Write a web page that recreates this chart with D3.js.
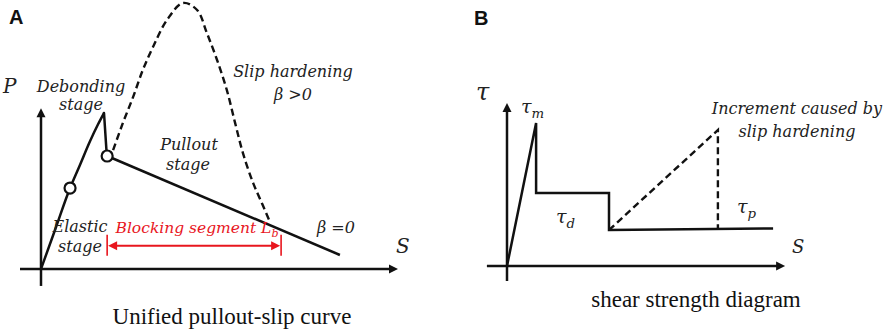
<!DOCTYPE html>
<html>
<head>
<meta charset="utf-8">
<script src="https://cdn.jsdelivr.net/npm/d3@7"></script>
<style>
  body { margin: 0; background: #fff; }
  svg { display: block; }
  .lbl { font-family: "DejaVu Serif", serif; font-style: italic; fill: #222; }
  .cap { font-family: "Liberation Serif", "Times New Roman", serif; fill: #111; }
  .panel { font-family: "Liberation Sans", Arial, sans-serif; font-weight: bold; fill: #111; }
</style>
</head>
<body>
<div id="chart"></div>
<script>
// ---- panel A data (S, P in arbitrary units) ----
const elasticCurve = [[0, 0], [0.40, 1.45], [0.83, 3.01], [1.11, 3.86], [1.40, 4.75], [1.63, 5.38], [1.80, 5.80]];
const debondDrop = [[1.80, 5.80], [1.87, 4.42]];
const stagePoints = [[0.83, 3.01], [1.89, 4.20]];
const pulloutLine = [[1.89, 4.20], [8.54, 0.52]];
const hardeningCurve = [[2.06, 4.42], [2.34, 5.43], [2.63, 6.39], [2.91, 7.40], [3.20, 8.25], [3.60, 9.26], [4.06, 9.89],
  [4.46, 9.63], [4.74, 8.77], [5.03, 7.77], [5.31, 6.65], [5.54, 5.46], [5.77, 4.31], [6.06, 3.20], [6.31, 2.45], [6.54, 1.75]];
const blockingSegment = [1.89, 6.86];   // S range of L_b
const blockingLevel = 0.86;
const axisA = { x: [-0.6, 10.2], y: [-0.63, 5.98] };

// ---- panel B data (S, tau) ----
const shearLine = [[0, 0], [0.97, 7.15], [0.97, 3.65], [3.4, 3.65], [3.4, 1.8], [8.87, 1.88]];
const hardeningRise = [[3.4, 1.8], [7.03, 6.8], [7.03, 1.87]];
const axisB = { x: [-0.67, 9.27], y: [-0.75, 8.15] };

const width = 886, height = 334;

const svg = d3.select('#chart').append('svg')
  .attr('width', width)
  .attr('height', height);

const xA = d3.scaleLinear().domain([0, 10]).range([41, 391]);
const yA = d3.scaleLinear().domain([0, 10]).range([269, 0]);
const xB = d3.scaleLinear().domain([0, 10]).range([507, 807]);
const yB = d3.scaleLinear().domain([0, 10]).range([266, 66]);

// arrow heads
function arrowHead(g, x, y, dir, color) {
  // dir: 'right', 'left', 'up'
  const L = 9, W = 4.5;
  let p;
  if (dir === 'right') p = [[x, y], [x - L, y - W], [x - L, y + W]];
  if (dir === 'left') p = [[x, y], [x + L, y - W], [x + L, y + W]];
  if (dir === 'up') p = [[x, y], [x - W, y + L], [x + W, y + L]];
  g.append('path').attr('d', 'M' + p.join('L') + 'Z').attr('fill', color);
}

function drawAxes(g, x, y, ax) {
  g.append('line')
    .attr('x1', x(ax.x[0])).attr('x2', x(ax.x[1]) - 6)
    .attr('y1', y(0)).attr('y2', y(0))
    .attr('stroke', '#111').attr('stroke-width', 2.5);
  arrowHead(g, x(ax.x[1]), y(0), 'right', '#111');
  g.append('line')
    .attr('x1', x(0)).attr('x2', x(0))
    .attr('y1', y(ax.y[0])).attr('y2', y(ax.y[1]) + 6)
    .attr('stroke', '#111').attr('stroke-width', 2.5);
  arrowHead(g, x(0), y(ax.y[1]), 'up', '#111');
}

// ================= panel A =================
const gA = svg.append('g');
const lineA = d3.line().x(d => xA(d[0])).y(d => yA(d[1]));

drawAxes(gA, xA, yA, axisA);

gA.append('path')
  .attr('d', lineA.curve(d3.curveMonotoneX)(elasticCurve))
  .attr('fill', 'none').attr('stroke', '#111').attr('stroke-width', 2.5);

gA.append('path')
  .attr('d', lineA.curve(d3.curveLinear)(debondDrop))
  .attr('fill', 'none').attr('stroke', '#111').attr('stroke-width', 2.5)
  .attr('stroke-linecap', 'round');

gA.append('path')
  .attr('d', lineA(pulloutLine))
  .attr('fill', 'none').attr('stroke', '#111').attr('stroke-width', 2.5);

gA.append('path')
  .attr('d', lineA.curve(d3.curveCatmullRom)(hardeningCurve))
  .attr('fill', 'none').attr('stroke', '#111').attr('stroke-width', 2.4)
  .attr('stroke-dasharray', '7,4');

gA.selectAll('circle.stage')
  .data(stagePoints)
  .enter().append('circle')
  .attr('class', 'stage')
  .attr('cx', d => xA(d[0])).attr('cy', d => yA(d[1]))
  .attr('r', 5.5)
  .attr('fill', '#fff').attr('stroke', '#111').attr('stroke-width', 2.2);

// blocking segment
const red = '#e8161e';
const bx0 = xA(blockingSegment[0]), bx1 = xA(blockingSegment[1]), by = yA(blockingLevel);
gA.append('line')
  .attr('x1', bx0 + 6).attr('x2', bx1 - 6).attr('y1', by).attr('y2', by)
  .attr('stroke', red).attr('stroke-width', 2);
arrowHead(gA, bx0 + 1, by, 'left', red);
arrowHead(gA, bx1 - 1, by, 'right', red);
[bx0, bx1].forEach(bx => {
  gA.append('line')
    .attr('x1', bx).attr('x2', bx).attr('y1', by - 11).attr('y2', by + 10)
    .attr('stroke', red).attr('stroke-width', 1.6);
});

const labelsA = [
  { t: 'Debonding', x: 81, y: 92 },
  { t: 'stage', x: 81, y: 110 },
  { t: 'Elastic', x: 80, y: 232 },
  { t: 'stage', x: 80, y: 252 },
  { t: 'Pullout', x: 189, y: 150 },
  { t: 'stage', x: 188, y: 170 },
  { t: 'Slip hardening', x: 293, y: 77 },
  { t: 'β >0', x: 293, y: 100 },
  { t: 'β =0', x: 336, y: 233 }
];
gA.selectAll('text.lbl')
  .data(labelsA)
  .enter().append('text')
  .attr('class', 'lbl')
  .attr('x', d => d.x).attr('y', d => d.y)
  .attr('text-anchor', 'middle')
  .style('font-size', '16px')
  .text(d => d.t);

const bl = gA.append('text')
  .attr('class', 'lbl')
  .attr('x', 197).attr('y', 233)
  .attr('text-anchor', 'middle')
  .style('font-size', '15.5px')
  .style('fill', red);
bl.append('tspan').text('Blocking segment L');
bl.append('tspan').attr('dy', 4).style('font-size', '11px').text('b');

gA.append('text').attr('class', 'lbl').attr('x', 3).attr('y', 93)
  .style('font-size', '20px').text('P');
gA.append('text').attr('class', 'lbl').attr('x', 396).attr('y', 253)
  .style('font-size', '20px').text('S');

gA.append('text').attr('class', 'cap')
  .attr('x', 232).attr('y', 324).attr('text-anchor', 'middle')
  .style('font-size', '23px')
  .text('Unified pullout-slip curve');

gA.append('text').attr('class', 'panel')
  .attr('x', 9).attr('y', 24)
  .style('font-size', '20px').text('A');

// ================= panel B =================
const gB = svg.append('g');
const lineB = d3.line().x(d => xB(d[0])).y(d => yB(d[1]));

drawAxes(gB, xB, yB, axisB);

gB.append('path')
  .attr('d', lineB(shearLine))
  .attr('fill', 'none').attr('stroke', '#111').attr('stroke-width', 2.5)
  .attr('stroke-linejoin', 'miter');

gB.append('path')
  .attr('d', lineB(hardeningRise))
  .attr('fill', 'none').attr('stroke', '#111').attr('stroke-width', 2.4)
  .attr('stroke-dasharray', '7,4');

function tauLabel(g, x, y, sub, size) {
  const t = g.append('text').attr('class', 'lbl').attr('x', x).attr('y', y)
    .style('font-size', size + 'px');
  t.append('tspan').text('τ');
  if (sub) t.append('tspan').attr('dy', size * 0.28).style('font-size', (size * 0.7) + 'px').text(sub);
}
tauLabel(gB, 476, 100, null, 24);
tauLabel(gB, 521, 113, 'm', 19);
tauLabel(gB, 556, 223, 'd', 19);
tauLabel(gB, 737, 213, 'p', 19);

gB.append('text').attr('class', 'lbl').attr('x', 792).attr('y', 253)
  .style('font-size', '18px').text('S');

[{ t: 'Increment caused by', y: 114 }, { t: 'slip hardening', y: 137 }].forEach(d => {
  gB.append('text').attr('class', 'lbl')
    .attr('x', 797).attr('y', d.y).attr('text-anchor', 'middle')
    .style('font-size', '16px').text(d.t);
});

gB.append('text').attr('class', 'cap')
  .attr('x', 696).attr('y', 307).attr('text-anchor', 'middle')
  .style('font-size', '23px')
  .text('shear strength diagram');

gB.append('text').attr('class', 'panel')
  .attr('x', 474).attr('y', 25)
  .style('font-size', '20px').text('B');
</script>
</body>
</html>
